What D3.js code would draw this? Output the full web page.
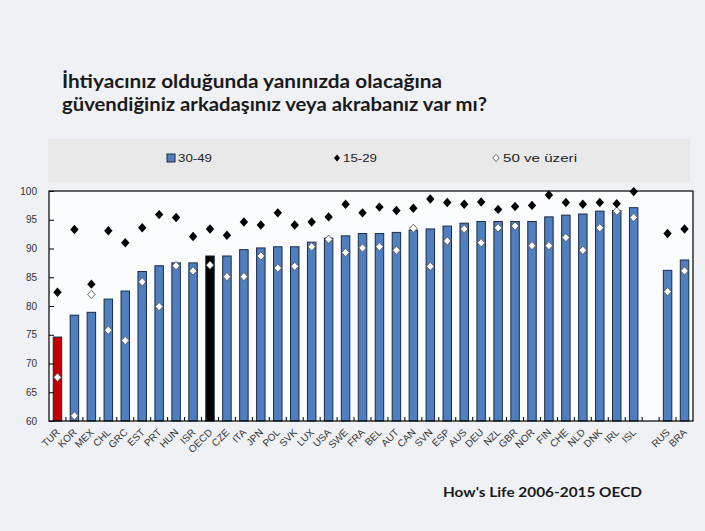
<!DOCTYPE html>
<html>
<head>
<meta charset="utf-8">
<script src="https://cdn.jsdelivr.net/npm/d3@7"></script>
<style>
  html, body { margin: 0; padding: 0; background: #eff1f5; }
  svg { display: block; }
</style>
</head>
<body>
<svg id="chart" width="705" height="531"></svg>
<script>
const categories = ["TUR","KOR","MEX","CHL","GRC","EST","PRT","HUN","ISR","OECD","CZE","ITA","JPN","POL","SVK","LUX","USA","SWE","FRA","BEL","AUT","CAN","SVN","ESP","AUS","DEU","NZL","GBR","NOR","FIN","CHE","NLD","DNK","IRL","ISL","RUS","BRA"];
const age3049 = [74.6,78.4,78.9,81.2,82.6,86.0,87.0,87.5,87.5,88.7,88.7,89.8,90.1,90.3,90.3,91.1,91.8,92.2,92.6,92.6,92.8,93.2,93.4,93.9,94.4,94.7,94.7,94.7,94.7,95.5,95.8,96.0,96.5,96.6,97.1,86.2,88.0];
const age1529 = [82.4,93.3,83.8,93.1,91.0,93.6,95.9,95.4,92.1,93.4,92.3,94.6,94.1,96.2,94.1,94.6,95.5,97.7,96.2,97.2,96.6,97.0,98.6,98.0,97.7,98.1,96.8,97.3,97.5,99.3,98.0,97.7,98.0,97.8,99.9,92.6,93.4];
const age50 = [67.6,60.9,82.0,75.8,74.0,84.2,79.9,87.0,86.1,87.1,85.1,85.1,88.7,86.6,86.9,90.3,91.6,89.3,90.1,90.3,89.7,93.5,86.9,91.3,93.4,91.0,93.6,93.9,90.5,90.5,91.9,89.7,93.6,96.5,95.4,82.5,86.1];
const yTicks = [60,65,70,75,80,85,90,95,100];
const gapKey = "__gap__";
const legendItems = ["30-49","15-29","50 ve üzeri"];
const titleLines = ["İhtiyacınız olduğunda yanınızda olacağına","güvendiğiniz arkadaşınız veya akrabanız var mı?"];
const sourceText = "How's Life 2006-2015 OECD";

const svg = d3.select("#chart");
const W = 705, H = 531;
const plot = {left: 49, right: 693, top: 191, bottom: 421};

svg.append("rect").attr("x",0).attr("y",0).attr("width",W).attr("height",H).attr("fill","#eff1f5");

// Title
const title = svg.append("g");
titleLines.forEach((t,i)=>{
  title.append("text")
    .attr("x",62).attr("y",88 + i*23)
    .attr("font-family","Lato, 'Open Sans', sans-serif")
    .attr("font-weight","bold")
    .attr("font-size",18)
    .attr("fill","#1a1a1a")
    .attr("textLength", i===0 ? 380 : 425)
    .attr("lengthAdjust","spacingAndGlyphs")
    .text(t);
});

// Legend
svg.append("rect").attr("x",48).attr("y",139).attr("width",642).attr("height",43).attr("fill","#e9e9ea");
const domainSlots = categories.slice(0,35).concat([gapKey]).concat(categories.slice(35));
const x = d3.scaleBand().domain(domainSlots).range([plot.left, plot.right]).paddingInner(0.5).paddingOuter(0.25);
const y = d3.scaleLinear().domain([60,100]).range([plot.bottom, plot.top]);

const diamond = (w,h) => `M0,${-h}L${w},0L0,${h}L${-w},0Z`;

const leg = svg.append("g").attr("font-family","'Liberation Sans', Arial, sans-serif").attr("font-size",11).attr("fill","#222");
leg.append("rect").attr("x",167).attr("y",154).attr("width",8).attr("height",8).attr("fill","#4f7fbe").attr("stroke","#1b2a47");
leg.append("text").attr("x",178).attr("y",162).attr("textLength",34).attr("lengthAdjust","spacingAndGlyphs").text(legendItems[0]);
leg.append("path").attr("d",diamond(3,3.5)).attr("transform","translate(337,158)").attr("fill","#000");
leg.append("text").attr("x",343).attr("y",162).attr("textLength",34).attr("lengthAdjust","spacingAndGlyphs").text(legendItems[1]);
leg.append("path").attr("d",diamond(3.2,3.6)).attr("transform","translate(496,158)").attr("fill","#fff").attr("stroke","#444").attr("stroke-width",0.8);
leg.append("text").attr("x",503).attr("y",162).attr("textLength",74).attr("lengthAdjust","spacingAndGlyphs").text(legendItems[2]);

// Plot area
svg.append("rect").attr("x",plot.left).attr("y",plot.top).attr("width",plot.right-plot.left).attr("height",plot.bottom-plot.top).attr("fill","#fafcfe");

const rows = categories.map((c,i)=>({c, a:age3049[i], b:age1529[i], o:age50[i]}));

// Bars
svg.append("g").selectAll("rect").data(rows).join("rect")
  .attr("x", d=>x(d.c))
  .attr("width", x.bandwidth())
  .attr("y", d=>y(d.a))
  .attr("height", d=>y(60)-y(d.a))
  .attr("fill", d=> d.c==="TUR" ? "#c00000" : d.c==="OECD" ? "#000000" : "#4f7fbe")
  .attr("stroke","#1b2a47").attr("stroke-width",1);

// 50+ white diamonds
svg.append("g").selectAll("path").data(rows).join("path")
  .attr("d", diamond(3.8,4.2))
  .attr("transform", d=>`translate(${x(d.c)+x.bandwidth()/2},${y(d.o)})`)
  .attr("fill","#fff").attr("stroke","#555").attr("stroke-width",0.9);

// 15-29 black diamonds
svg.append("g").selectAll("path").data(rows).join("path")
  .attr("d", diamond(4.2,4.7))
  .attr("transform", d=>`translate(${x(d.c)+x.bandwidth()/2},${y(d.b)})`)
  .attr("fill","#000");

// Frame
svg.append("rect").attr("x",plot.left).attr("y",plot.top).attr("width",plot.right-plot.left).attr("height",plot.bottom-plot.top).attr("fill","none").attr("stroke","#000").attr("stroke-width",1.2);

// Y axis
const yAxis = d3.axisLeft(y).tickValues(yTicks).tickSize(-5).tickPadding(12);
const yg = svg.append("g").attr("transform",`translate(${plot.left},0)`).call(yAxis);
yg.select(".domain").remove();
yg.selectAll("line").attr("stroke","#000");
yg.selectAll("text").attr("font-family","'Liberation Sans', Arial, sans-serif").attr("font-size",10).attr("fill","#333");

// X axis ticks at slot boundaries
const step = x.step();
const bounds = d3.range(1, domainSlots.length);
svg.append("g").selectAll("line").data(bounds).join("line")
  .attr("x1", i=>plot.left + step*i).attr("x2", i=>plot.left + step*i)
  .attr("y1", plot.bottom).attr("y2", plot.bottom-4)
  .attr("stroke","#000").attr("stroke-width",1);

// X labels
svg.append("g").selectAll("text").data(categories).join("text")
  .attr("transform", c=>`translate(${x(c)+x.bandwidth()/2+3},${plot.bottom+12}) rotate(-45)`)
  .attr("text-anchor","end")
  .attr("font-family","'Liberation Sans', Arial, sans-serif")
  .attr("font-size",10)
  .attr("fill","#333")
  .text(c=>c);

// Source
svg.append("text").attr("x",443).attr("y",497)
  .attr("font-family","Lato, 'Open Sans', sans-serif").attr("font-weight","bold").attr("font-size",14)
  .attr("fill","#1a1a1a").attr("textLength",199).attr("lengthAdjust","spacingAndGlyphs")
  .text(sourceText);
</script>
</body>
</html>
